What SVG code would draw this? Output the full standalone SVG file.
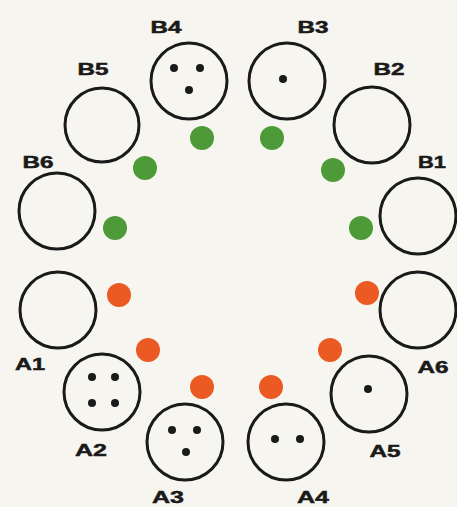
<svg xmlns="http://www.w3.org/2000/svg" width="457" height="507" viewBox="0 0 457 507">
<style>
.ring{fill:none;stroke:#1a1a1a;stroke-width:3}
.pin{fill:#1a1a1a}
.g{fill:#4e9a38}
.r{fill:#ea5a22}
.lbl{font-family:"Liberation Sans",Arial,sans-serif;font-weight:bold;font-size:17px;fill:#1a1a1a;stroke:#1a1a1a;stroke-width:0.5;text-anchor:middle}
</style>
<rect width="457" height="507" fill="#f7f5ef"/>
<g id="B4"><circle class="ring" cx="189" cy="81" r="38"/><circle class="pin" cx="174" cy="68" r="4"/><circle class="pin" cx="200" cy="68" r="4"/><circle class="pin" cx="189" cy="90" r="4"/><text class="lbl" x="166" y="33" textLength="31" lengthAdjust="spacingAndGlyphs">B4</text></g>
<g id="B3"><circle class="ring" cx="287" cy="81" r="38"/><circle class="pin" cx="283" cy="79" r="4"/><text class="lbl" x="313" y="33" textLength="31" lengthAdjust="spacingAndGlyphs">B3</text></g>
<g id="B2"><circle class="ring" cx="372" cy="125" r="38"/><text class="lbl" x="389" y="75" textLength="31" lengthAdjust="spacingAndGlyphs">B2</text></g>
<g id="B1"><circle class="ring" cx="418" cy="216" r="38"/><text class="lbl" x="432" y="168" textLength="28" lengthAdjust="spacingAndGlyphs">B1</text></g>
<g id="B5"><circle class="ring" cx="102" cy="125" r="37"/><text class="lbl" x="93" y="75" textLength="31" lengthAdjust="spacingAndGlyphs">B5</text></g>
<g id="B6"><circle class="ring" cx="57" cy="211" r="38"/><text class="lbl" x="38" y="168" textLength="31" lengthAdjust="spacingAndGlyphs">B6</text></g>
<g id="A1"><circle class="ring" cx="58" cy="310" r="38"/><text class="lbl" x="30" y="370" textLength="30" lengthAdjust="spacingAndGlyphs">A1</text></g>
<g id="A2"><circle class="ring" cx="102" cy="392" r="38"/><circle class="pin" cx="92" cy="377" r="4"/><circle class="pin" cx="115" cy="377" r="4"/><circle class="pin" cx="92" cy="403" r="4"/><circle class="pin" cx="115" cy="403" r="4"/><text class="lbl" x="91" y="456" textLength="32" lengthAdjust="spacingAndGlyphs">A2</text></g>
<g id="A3"><circle class="ring" cx="185" cy="442" r="38"/><circle class="pin" cx="172" cy="430" r="4"/><circle class="pin" cx="197" cy="430" r="4"/><circle class="pin" cx="186" cy="452" r="4"/><text class="lbl" x="168" y="503" textLength="32" lengthAdjust="spacingAndGlyphs">A3</text></g>
<g id="A4"><circle class="ring" cx="286" cy="442" r="38"/><circle class="pin" cx="275" cy="439" r="4"/><circle class="pin" cx="300" cy="439" r="4"/><text class="lbl" x="313" y="503" textLength="32" lengthAdjust="spacingAndGlyphs">A4</text></g>
<g id="A5"><circle class="ring" cx="369" cy="394" r="38"/><circle class="pin" cx="368" cy="389" r="4"/><text class="lbl" x="385" y="457" textLength="31" lengthAdjust="spacingAndGlyphs">A5</text></g>
<g id="A6"><circle class="ring" cx="418" cy="310" r="38"/><text class="lbl" x="433" y="373" textLength="31" lengthAdjust="spacingAndGlyphs">A6</text></g>
<g id="green-leds">
<circle class="g" cx="202" cy="138" r="12"/>
<circle class="g" cx="272" cy="138" r="12"/>
<circle class="g" cx="145" cy="168" r="12"/>
<circle class="g" cx="333" cy="170" r="12"/>
<circle class="g" cx="115" cy="228" r="12"/>
<circle class="g" cx="361" cy="228" r="12"/>
</g>
<g id="red-leds">
<circle class="r" cx="119" cy="295" r="12"/>
<circle class="r" cx="148" cy="350" r="12"/>
<circle class="r" cx="202" cy="387" r="12"/>
<circle class="r" cx="271" cy="387" r="12"/>
<circle class="r" cx="330" cy="350" r="12"/>
<circle class="r" cx="367" cy="293" r="12"/>
</g>
</svg>
